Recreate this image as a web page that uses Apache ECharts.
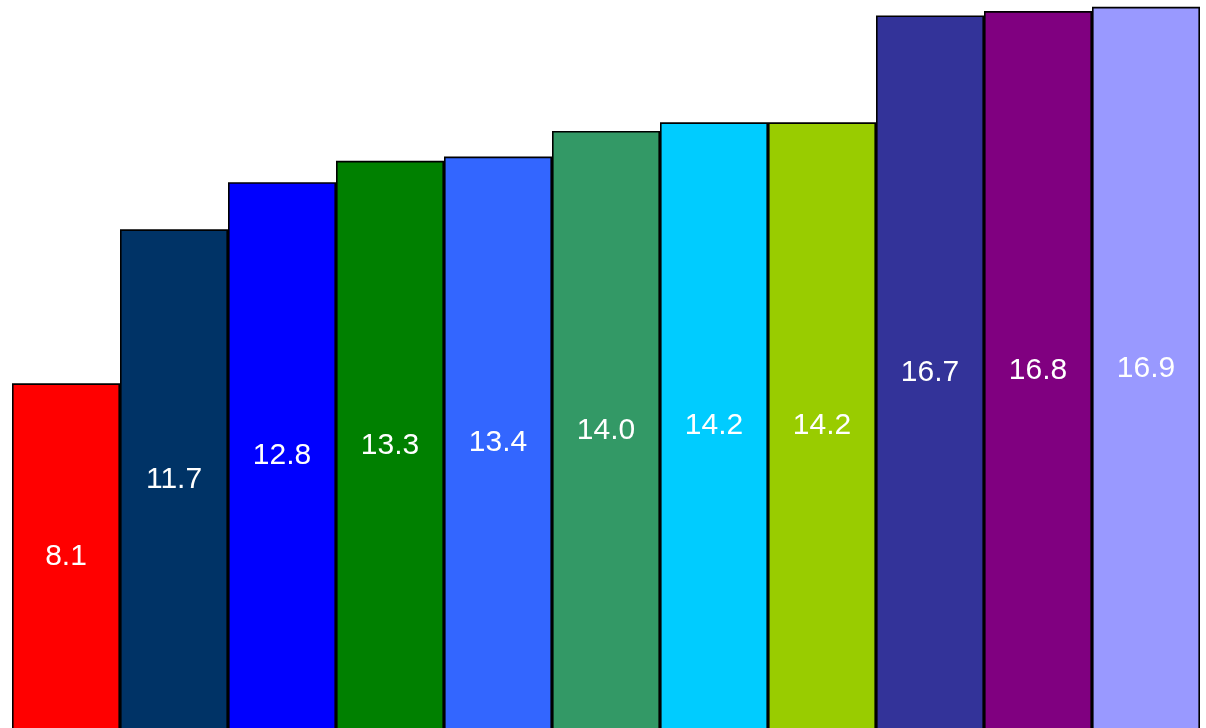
<!DOCTYPE html>
<html>
<head>
<meta charset="utf-8">
<style>
  html, body { margin: 0; padding: 0; background: #ffffff; overflow: hidden; }
  /* canvas runs a few pixels past the window so the bar baseline is off-screen */
  #chart { width: 1206px; height: 731px; }
</style>
<script src="https://cdn.jsdelivr.net/npm/echarts@6/dist/echarts.min.js"></script>
</head>
<body>
<div id="chart"></div>
<script>
// Categories and values, sorted ascending
const categories = ['A', 'B', 'C', 'D', 'E', 'F', 'G', 'H', 'I', 'J', 'K'];
const values = [8.1, 11.7, 12.8, 13.3, 13.4, 14.0, 14.2, 14.2, 16.7, 16.8, 16.9];
const barColors = ['#FF0000', '#003366', '#0000FF', '#008000', '#3366FF', '#339966',
                   '#00CCFF', '#99CC00', '#333399', '#800080', '#9999FF'];

const chart = echarts.init(document.getElementById('chart'), null, { renderer: 'canvas' });

chart.setOption({
  animation: false,
  backgroundColor: '#ffffff',
  // 1188px plot width -> 108px per bar, so shared bar edges fall on whole pixels
  grid: { left: 12, right: 6, top: 0, bottom: 1.2, containLabel: false },
  xAxis: {
    type: 'category',
    data: categories,
    show: false
  },
  yAxis: {
    type: 'value',
    min: 0,
    max: 17.06,
    show: false,
    splitLine: { show: false }
  },
  series: [{
    type: 'bar',
    barWidth: '100%',
    barCategoryGap: 0,
    data: values.map((v, i) => ({
      value: v,
      itemStyle: { color: barColors[i] }
    })),
    // ECharts keeps the outline inside each bar, so neighbours' outlines add up
    itemStyle: { borderColor: '#000000', borderWidth: 1.6 },
    label: {
      show: true,
      position: 'inside',
      color: '#ffffff',
      fontFamily: 'Liberation Sans, Arial, sans-serif',
      fontSize: 30,
      formatter: p => p.value.toFixed(1)
    }
  }]
});
</script>
</body>
</html>
